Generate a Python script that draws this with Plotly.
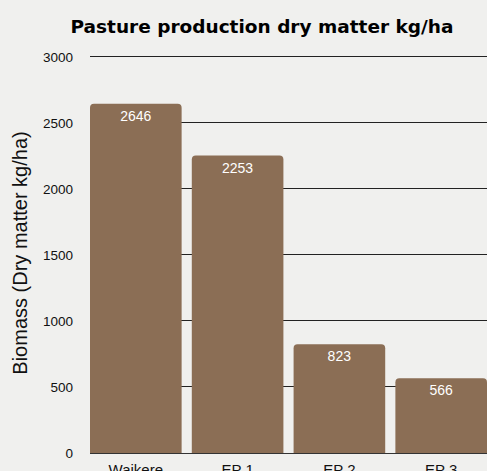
import plotly.graph_objects as go

categories = ["Waikere", "EP 1", "EP 2", "EP 3"]
biomass = [2646, 2253, 823, 566]
y_ticks = [0, 500, 1000, 1500, 2000, 2500, 3000]

fig = go.Figure(go.Bar(
    x=categories,
    y=biomass,
    width=0.9,
    marker=dict(color="#8B6E55", line=dict(width=0)),
    text=[str(v) for v in biomass],
    textposition="inside",
    insidetextanchor="end",
    textfont=dict(color="white", size=14, family="Liberation Sans, Arial, sans-serif"),
    textangle=0,
))

fig.update_layout(
    width=487, height=471,
    margin=dict(l=90, r=0, t=53, b=18),
    paper_bgcolor="#f0f0ee",
    plot_bgcolor="#f0f0ee",
    barcornerradius=4,
    showlegend=False,
    font=dict(family="Liberation Sans, Arial, sans-serif", color="#111"),
    title=dict(text="<b>Pasture production dry matter kg/ha</b>",
               x=262/487, xanchor="center", y=1-27/471, yanchor="middle",
               font=dict(size=18.5, family="DejaVu Sans, sans-serif", color="#000")),
)
fig.update_xaxes(
    range=[-0.45, 3.45], showgrid=False, showline=True, linecolor="#333", linewidth=1,
    tickfont=dict(size=15), ticks="", automargin=False, ticklabelstandoff=3,
)
fig.update_yaxes(
    range=[0, 3030], tickvals=y_ticks, showgrid=True, gridcolor="#222", gridwidth=1,
    zeroline=False, tickfont=dict(size=13.5), ticks="", ticklabelstandoff=16,
    title=dict(text="Biomass (Dry matter kg/ha)", font=dict(size=20), standoff=9),
    automargin=False,
)

fig.write_html("out.html", config={"displayModeBar": False},
               post_script="document.body.style.margin='0px';document.body.style.background='#f0f0ee';")
